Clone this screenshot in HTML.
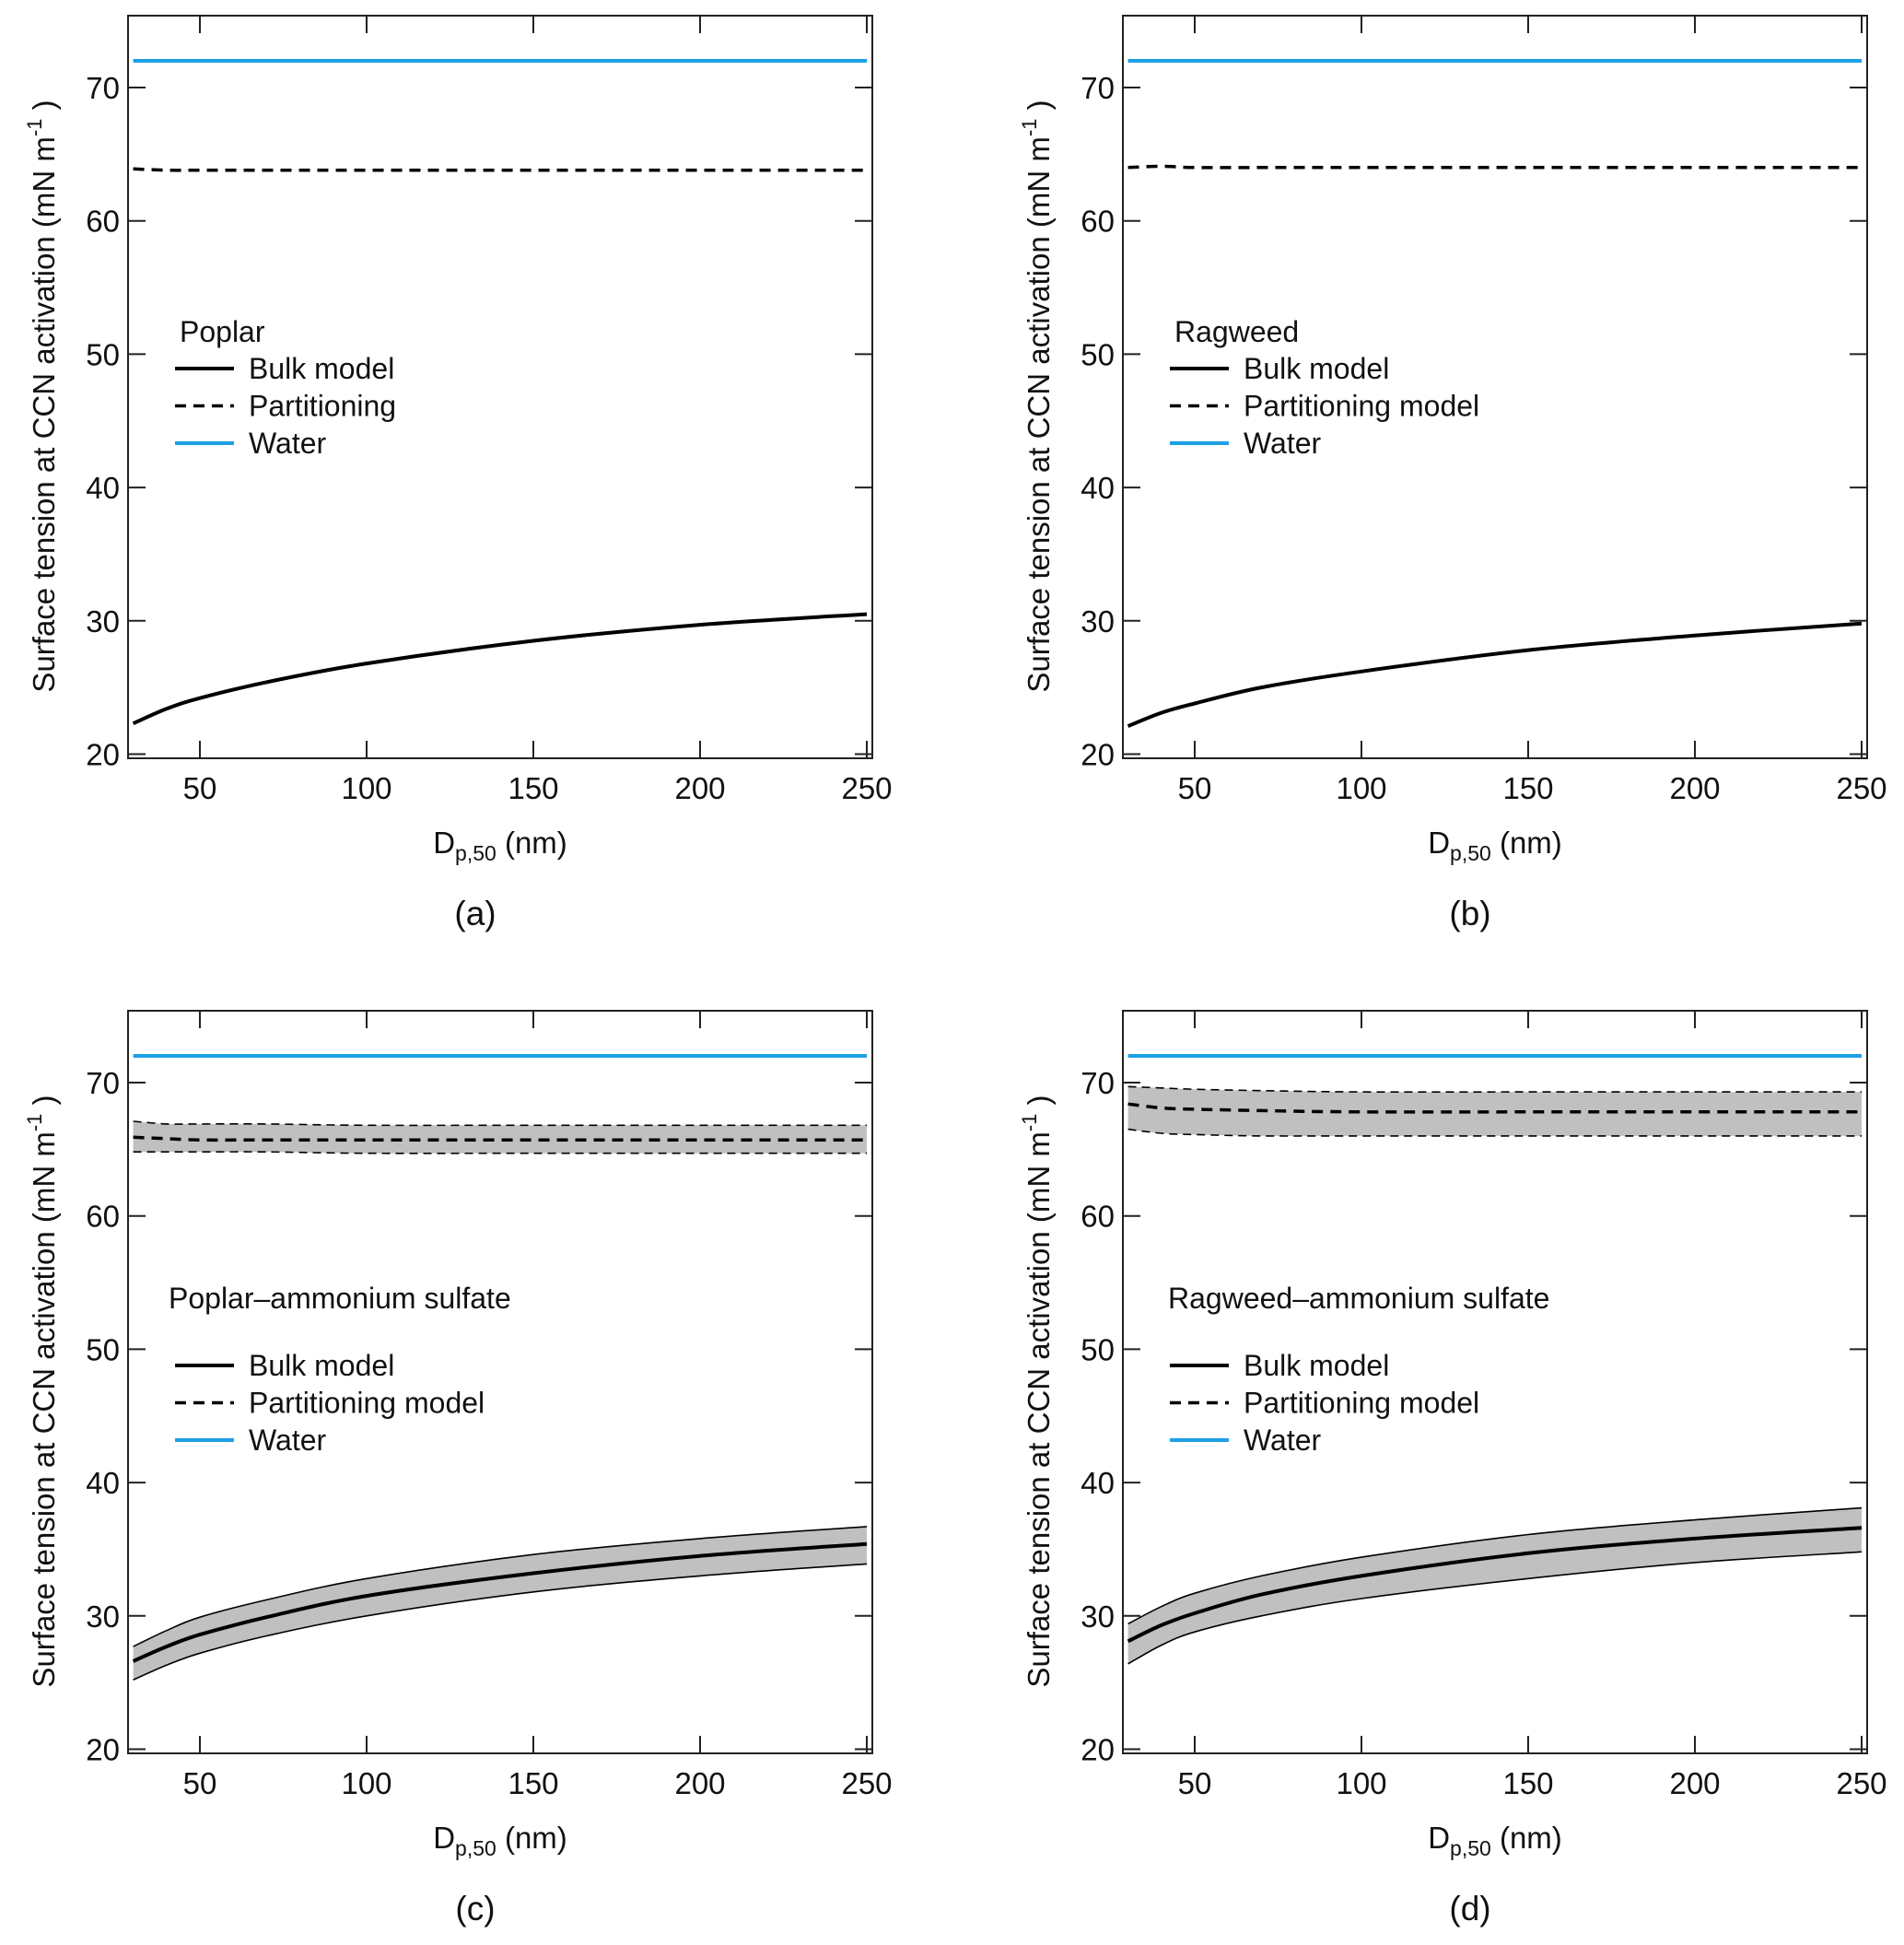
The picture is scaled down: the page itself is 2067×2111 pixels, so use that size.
<!DOCTYPE html>
<html><head><meta charset="utf-8"><style>
html,body{margin:0;padding:0;background:#fff;}
svg{display:block;font-family:"Liberation Sans",sans-serif;}
</style></head><body>
<svg id="fig" width="2067" height="2111" viewBox="0 0 2067 2111" xmlns="http://www.w3.org/2000/svg"></svg>
<script>
const xs = [30, 40, 50, 70, 100, 150, 200, 250];
const xTicks = [50, 100, 150, 200, 250];
const yTicks = [20, 30, 40, 50, 60, 70];
const water = 72;
// panel a
const aBulk = [22.3, 23.4, 24.2, 25.4, 26.8, 28.5, 29.7, 30.5];
const aPart = [63.9, 63.8, 63.8, 63.8, 63.8, 63.8, 63.8, 63.8];
// panel b
const bBulk = [22.1, 23.1, 23.8, 25.0, 26.2, 27.8, 28.9, 29.8];
const bPart = [64.0, 64.1, 64.0, 64.0, 64.0, 64.0, 64.0, 64.0];
// panel c
const cBulk = [26.6, 27.7, 28.6, 29.9, 31.5, 33.2, 34.5, 35.4];
const cBulkHi = [27.7, 28.9, 29.9, 31.2, 32.8, 34.6, 35.8, 36.7];
const cBulkLo = [25.2, 26.3, 27.2, 28.5, 30.0, 31.8, 33.0, 33.9];
const cPart = [65.9, 65.8, 65.7, 65.7, 65.7, 65.7, 65.7, 65.7];
const cPartHi = [67.1, 66.9, 66.9, 66.9, 66.8, 66.8, 66.8, 66.8];
const cPartLo = [64.8, 64.8, 64.8, 64.8, 64.7, 64.7, 64.7, 64.7];
// panel d
const dBulk = [28.1, 29.3, 30.2, 31.6, 33.0, 34.7, 35.8, 36.6];
const dBulkHi = [29.4, 30.7, 31.7, 33.0, 34.4, 36.1, 37.2, 38.1];
const dBulkLo = [26.4, 27.8, 28.8, 30.0, 31.3, 32.8, 34.0, 34.8];
const dPart = [68.4, 68.1, 68.0, 67.9, 67.8, 67.8, 67.8, 67.8];
const dPartHi = [69.7, 69.6, 69.5, 69.4, 69.3, 69.3, 69.3, 69.3];
const dPartLo = [66.5, 66.2, 66.1, 66.0, 66.0, 66.0, 66.0, 66.0];

const NS = "http://www.w3.org/2000/svg";
const svg = document.getElementById('fig');
function mk(tag, attrs, parent) {
  const e = document.createElementNS(NS, tag);
  for (const k in attrs) e.setAttribute(k, attrs[k]);
  (parent || svg).appendChild(e);
  return e;
}
function curve(px, py) {
  let d = 'M' + px[0].toFixed(1) + ',' + py[0].toFixed(1);
  for (let i = 0; i < px.length - 1; i++) {
    const x0 = px[Math.max(i - 1, 0)], y0 = py[Math.max(i - 1, 0)];
    const x1 = px[i], y1 = py[i], x2 = px[i + 1], y2 = py[i + 1];
    const x3 = px[Math.min(i + 2, px.length - 1)], y3 = py[Math.min(i + 2, px.length - 1)];
    const c1x = x1 + (x2 - x0) / 6, c1y = y1 + (y2 - y0) / 6;
    const c2x = x2 - (x3 - x1) / 6, c2y = y2 - (y3 - y1) / 6;
    d += ' C' + c1x.toFixed(1) + ',' + c1y.toFixed(1) + ' ' + c2x.toFixed(1) + ',' + c2y.toFixed(1) + ' ' + x2.toFixed(1) + ',' + y2.toFixed(1);
  }
  return d;
}
function panel(p) {
  const g = mk('g', {});
  
  
  const X = v => p.x50 + (v - 50) * 3.62;
  const Y = v => p.y70 + (70 - v) * 14.47;
  const L = p.x50 - 78, R = p.x50 + 730, T = p.y70 - 78, B = p.y70 + 728;
  const px = xs.map(X);
  [[p.bHi, p.bLo, 'bulk'], [p.pHi, p.pLo, 'partitioning']].forEach(([hi, lo, nm]) => {
    if (!hi) return;
    const dHi = curve(px, hi.map(Y));
    const rx = px.slice().reverse(), ry = lo.map(Y).reverse();
    const dLo = curve(rx, ry).replace(/^M/, 'L');
    const band = mk('path', {d: dHi + ' ' + dLo + ' Z', fill: '#c0c0c0', stroke: 'none'}, g);
    
    
    const dash = nm === 'partitioning' ? '9,6' : 'none';
    const e1 = mk('path', {d: dHi, fill: 'none', stroke: '#000', 'stroke-width': 1.6, 'stroke-dasharray': dash}, g);
    
    
    const e2 = mk('path', {d: curve(px, lo.map(Y)), fill: 'none', stroke: '#000', 'stroke-width': 1.6, 'stroke-dasharray': dash}, g);
    
    
  });
  const w = mk('line', {x1: X(30), x2: X(250), y1: Y(water), y2: Y(water), stroke: '#1ea0e6', 'stroke-width': 4}, g);
  
  
  const pl = mk('path', {d: curve(px, p.part.map(Y)), fill: 'none', stroke: '#000', 'stroke-width': 3.5, 'stroke-dasharray': '12,8'}, g);
  
  
  const bl = mk('path', {d: curve(px, p.bulk.map(Y)), fill: 'none', stroke: '#000', 'stroke-width': 4}, g);
  
  
  const fr = mk('rect', {x: L, y: T, width: R - L, height: B - T, fill: 'none', stroke: '#222', 'stroke-width': 2}, g);
  
  
  xTicks.forEach(v => {
    mk('line', {x1: X(v), x2: X(v), y1: B, y2: B - 19, stroke: '#222', 'stroke-width': 2}, g);
    mk('line', {x1: X(v), x2: X(v), y1: T, y2: T + 19, stroke: '#222', 'stroke-width': 2}, g);
    const t = mk('text', {x: X(v), y: B + 44, 'text-anchor': 'middle', 'font-size': 33, fill: '#111'}, g);
    t.textContent = v;
    
    
  });
  yTicks.forEach(v => {
    mk('line', {x1: L, x2: L + 19, y1: Y(v), y2: Y(v), stroke: '#222', 'stroke-width': 2}, g);
    mk('line', {x1: R, x2: R - 19, y1: Y(v), y2: Y(v), stroke: '#222', 'stroke-width': 2}, g);
    const t = mk('text', {x: L - 9, y: Y(v) + 12, 'text-anchor': 'end', 'font-size': 33, fill: '#111'}, g);
    t.textContent = v;
    
    
  });
  const xt = mk('text', {x: L + 404, y: p.y70 + 831, 'text-anchor': 'middle', 'font-size': 33, fill: '#111'}, g);
  xt.innerHTML = 'D<tspan font-size="23" dy="8">p,50</tspan><tspan dy="-8"> (nm)</tspan>';
  
  
  const yc = p.y70 + 335;
  const yt = mk('text', {x: 0, y: 0, transform: 'translate(' + (L - 80) + ',' + yc + ') rotate(-90)', 'text-anchor': 'middle', 'font-size': 33, fill: '#111'}, g);
  yt.innerHTML = 'Surface  tension at CCN activation (mN m<tspan font-size="22" dy="-14">-1</tspan><tspan dy="14"> )</tspan>';
  
  
  const pt = mk('text', {x: L + 377, y: p.y70 + 909, 'text-anchor': 'middle', 'font-size': 37, fill: '#111'}, g);
  pt.textContent = '(' + p.id + ')';
  
  
  const lg = mk('g', {}, g);
  
  
  const lx = L + 51, ly = p.y70 + p.lgdy;
  const tt = mk('text', {x: lx + p.tdx, y: ly, 'font-size': 32, fill: '#111'}, lg);
  tt.textContent = p.title;
  
  
  const items = [['Bulk model', '#000', 'none', 4], [p.partLabel, '#000', '12,8', 3.5], ['Water', '#1ea0e6', 'none', 4]];
  items.forEach((it, i) => {
    const yy = ly + p.lgGap + i * 40.5;
    mk('line', {x1: lx, x2: lx + 64, y1: yy, y2: yy, stroke: it[1], 'stroke-width': it[3], 'stroke-dasharray': it[2]}, lg);
    const t = mk('text', {x: lx + 80, y: yy + 11, 'font-size': 32, fill: '#111'}, lg);
    t.textContent = it[0];
    
    
  });
}
panel({id: 'a', x50: 217, y70: 95, bulk: aBulk, part: aPart, title: 'Poplar', partLabel: 'Partitioning', lgdy: 276, lgGap: 29, tdx: 5});
panel({id: 'b', x50: 1297, y70: 95, bulk: bBulk, part: bPart, title: 'Ragweed', partLabel: 'Partitioning model', lgdy: 276, lgGap: 29, tdx: 5});
panel({id: 'c', x50: 217, y70: 1175, bulk: cBulk, part: cPart, bHi: cBulkHi, bLo: cBulkLo, pHi: cPartHi, pLo: cPartLo, title: 'Poplar\u2013ammonium sulfate', partLabel: 'Partitioning model', lgdy: 245, lgGap: 62, tdx: -7});
panel({id: 'd', x50: 1297, y70: 1175, bulk: dBulk, part: dPart, bHi: dBulkHi, bLo: dBulkLo, pHi: dPartHi, pLo: dPartLo, title: 'Ragweed\u2013ammonium sulfate', partLabel: 'Partitioning model', lgdy: 245, lgGap: 62, tdx: -2});
</script>
</body></html>
